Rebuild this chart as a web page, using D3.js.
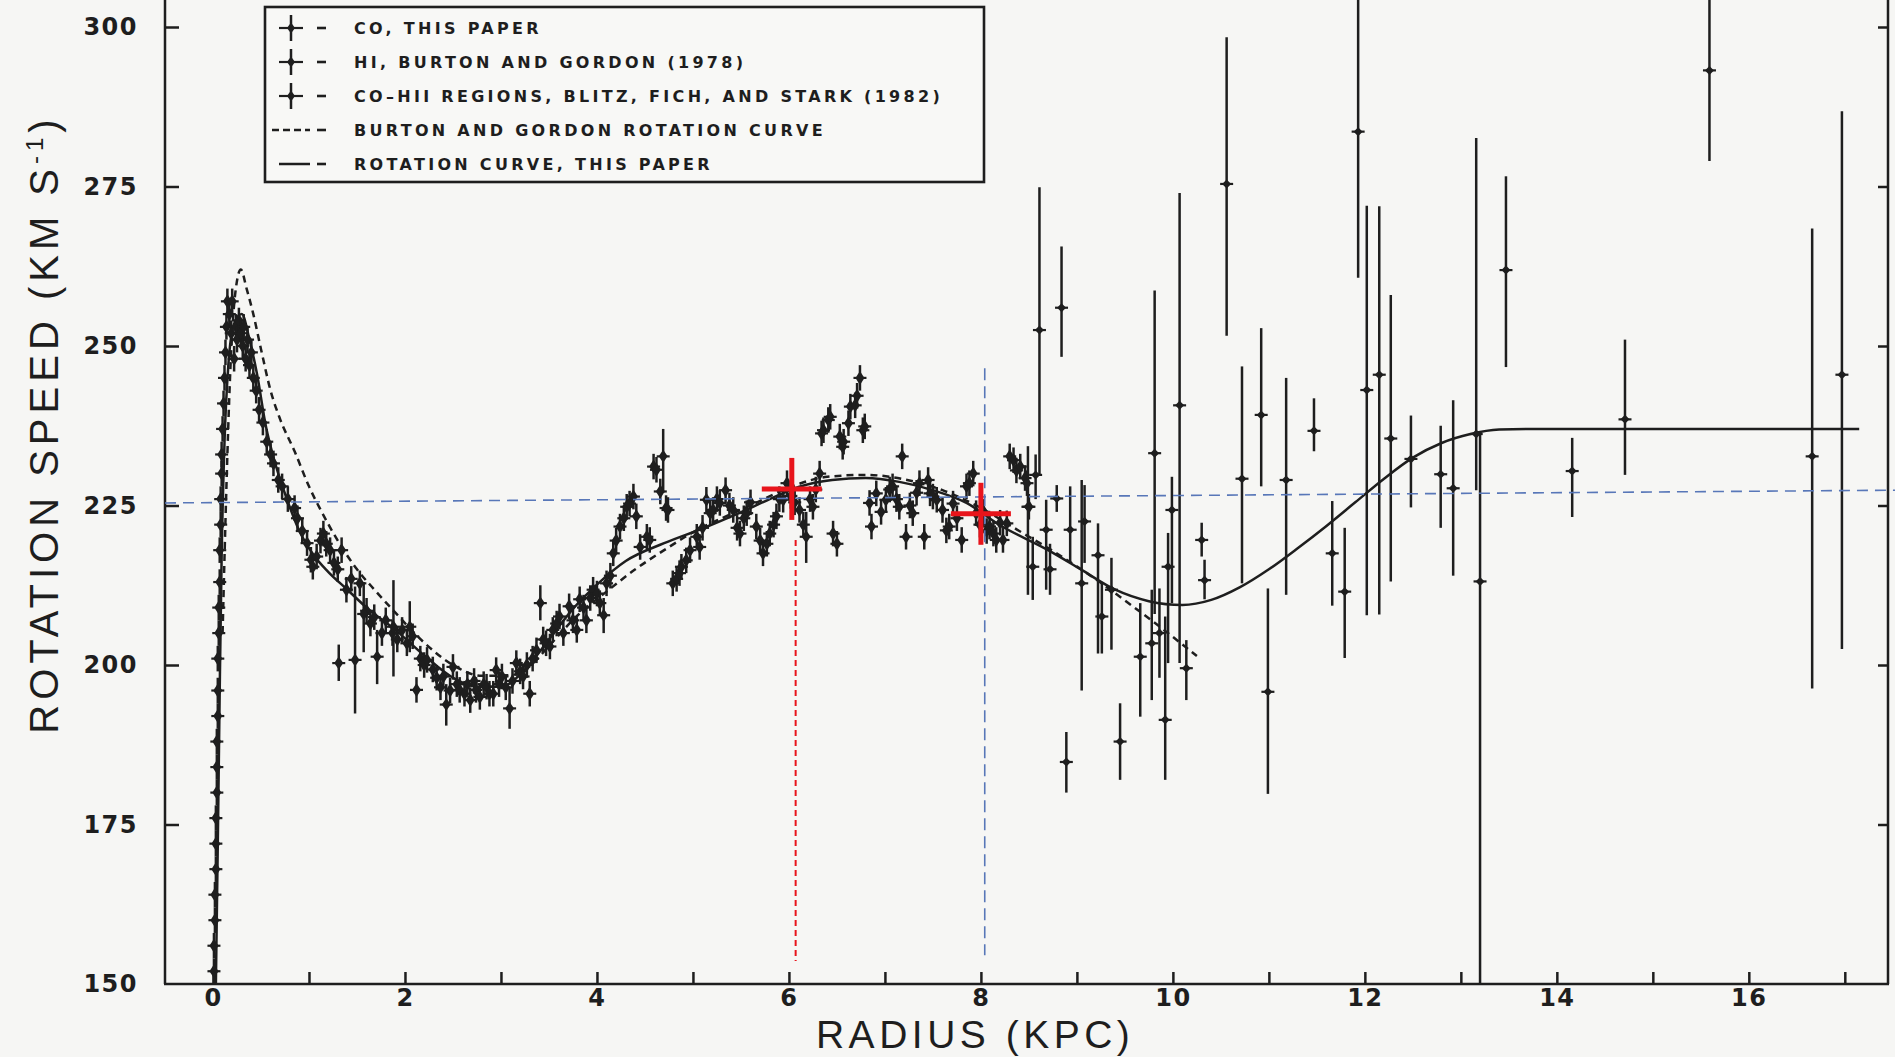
<!DOCTYPE html>
<html>
<head>
<meta charset="utf-8">
<script src="https://cdn.jsdelivr.net/npm/d3@7"></script>
<style>
  html, body { margin: 0; padding: 0; background: #f6f6f4; }
  svg { display: block; }
  .axis path, .axis line { stroke: #1e1e1e; stroke-width: 2.5; }
  .axis text { font-family: "DejaVu Sans", sans-serif; font-weight: bold; font-size: 24px; fill: #1e1e1e; letter-spacing: 1.5px; }
  .title { font-family: "Liberation Sans", sans-serif; fill: #1e1e1e; }
  .legend text { font-family: "DejaVu Sans", sans-serif; font-weight: bold; font-size: 16px; fill: #1e1e1e; letter-spacing: 3.3px; }
</style>
</head>
<body>
<div id="chart"></div>
<script>
// radius (kpc), rotation speed (km/s)

// CO, this paper
const coPoints = [
    [0.01,152],[0.01,156],[0.02,160],[0.02,164],[0.03,168],[0.03,172],[0.03,176],[0.04,180],[0.04,184],[0.04,188],
    [0.05,192],[0.05,196],[0.05,201],[0.06,205],[0.06,209],[0.07,213],[0.07,218],[0.08,222],[0.08,226],[0.09,230],
    [0.09,233],[0.10,237],[0.11,241],[0.12,245],[0.13,249],[0.14,253],[0.15,257],[0.17,255],[0.19,252],[0.20,257],
    [0.22,248],[0.24,253],[0.25,251],[0.27,254],[0.29,252],[0.31,250],[0.32,253],[0.34,248],[0.36,251],[0.38,247],
    [0.40,249],[0.42,245],[0.45,243],[0.48,240],[0.52,238],[0.56,235],[0.60,233],[0.63,231.6],[0.68,229],[0.72,228],
    [0.78,226],[0.85,224.6],[0.88,223],[0.93,221],[0.98,219.1],[1.02,216.5],[1.04,215.4],[1.08,217],[1.12,219.5],[1.15,220.6],
    [1.18,219],[1.22,218],[1.26,216],[1.30,215],[1.34,218],[1.39,211.8],[1.44,213.5],[1.53,212.8],[1.60,208.5],[1.64,206.5],
    [1.68,207.5],[1.76,205],[1.80,207],[1.87,205],[1.92,204],[1.97,205.5],[2.02,203.4],[2.08,204.5],[2.12,196.1],[2.16,201],
    [2.20,200],[2.23,200.8],[2.29,199.3],[2.33,198],[2.37,196.5],[2.40,198.2],[2.47,196],[2.50,199.7],[2.54,197],[2.57,196.1],
    [2.62,195.5],[2.65,197],[2.68,194.5],[2.72,197.5],[2.74,196.1],[2.78,195],[2.82,197],[2.85,196.6],[2.88,195.5],[2.92,195.5],
    [2.95,199.2],[2.98,197],[3.01,198.2],[3.05,196.5],[3.12,197.5],[3.16,200.3],[3.20,199],[3.23,198.2],[3.27,200],[3.30,195.5],
    [3.33,201],[3.37,202.3],[3.44,204],[3.47,203.4],[3.51,202.9],[3.54,205.5],[3.58,206.5],[3.61,207.6],[3.65,205],[3.71,209.2],
    [3.75,207],[3.79,205.5],[3.82,210.3],[3.86,209],[3.89,207],[3.93,210.5],[3.96,211.8],[4.00,211.2],[4.03,209.7],[4.10,212.8],
    [4.14,214],[4.17,217.5],[4.20,219.5],[4.24,221.7],[4.28,223],[4.31,224.8],[4.34,225.3],[4.38,226.4],[4.41,223.3],[4.45,218.5],
    [4.52,220.1],[4.55,219.6],[4.59,231.1],[4.62,230.6],[4.66,227.2],[4.72,224.6],[4.74,224.3],[4.79,212.8],[4.83,213.5],[4.86,214.4],
    [4.88,215.4],[4.93,216.4],[4.97,218],[5.04,220.1],[5.07,218.5],[5.10,221.5],[5.14,225.9],[5.18,223.8],[5.21,224.3],[5.25,226],
    [5.28,225.4],[5.34,227.4],[5.38,225],[5.42,224.3],[5.46,221.5],[5.49,220.6],[5.53,223],[5.56,223.8],[5.60,225.5],[5.66,221.7],
    [5.70,219.5],[5.73,217.5],[5.77,219],[5.80,220.6],[5.84,222],[5.87,223.3],[5.90,226],[5.94,225.9],[5.98,228.5],[6.02,226.5],
    [6.06,225.5],[6.11,224.3],[6.15,222],[6.22,226],[6.25,224.8],[6.28,227.5],[6.32,230],[6.34,236.3],[6.36,236.8],[6.41,238.4],
    [6.43,238.9],[6.46,220.6],[6.50,219],[6.53,235.8],[6.56,234.2],[6.57,235],[6.62,237.9],[6.64,240.5],[6.69,240.7],[6.71,242.2],
    [6.74,245],[6.77,236.8],[6.79,237.4],[6.84,225.4],[6.86,221.7],[6.91,226.9],[6.96,224],[7.01,225.9],[7.05,227.5],[7.08,228],
    [7.12,226],[7.15,224.8],[7.18,232.7],[7.22,220.1],[7.26,225],[7.29,223.8],[7.33,227],[7.36,228.5],[7.41,220.1],[7.45,229],
    [7.47,226.9],[7.50,226.4],[7.54,225.9],[7.60,224.3],[7.64,221.1],[7.67,221.7],[7.71,225.3],[7.75,223],[7.80,219.6],[7.85,228],
    [7.88,228.5],[7.92,230],[7.95,223.8],[7.99,222],[8.03,224],[8.06,221],[8.09,221.7],[8.13,220.6],[8.16,219.6],[8.20,222.3],
    [8.23,219.6],[8.27,222.2],[8.30,232.7],[8.34,232.1],[8.37,230.5],[8.41,231.1],[8.46,229.3],[8.48,228.5],[8.50,224.8]
];
const coErr = 2;

// HI, Burton and Gordon (1978): radius, speed, error low, error high
const hiPoints = [
    [1.31,200.3,197.5,203.2],[1.48,200.8,192.4,212.3],[1.57,208,202,213],[1.71,201.3,197,205.5],
    [1.88,206,198.2,213.3],[2.05,206,202,210],[2.43,193.8,190.5,197],[3.09,193.2,190,196.5],
    [3.41,209.7,207,212.5],[4.07,207.8,205,210.5],[4.69,232.7,227,237],[6.18,220.1,216,224]
];

// CO-HII regions, Blitz, Fich and Stark (1982): radius, speed, error low, error high
const hiiPoints = [
    [8.49,224.8,211,234.3],[8.54,215.4,210.2,220.1],[8.57,229.8,226,233],[8.61,252.5,229.8,274.9],
    [8.68,221.2,211.8,225.9],[8.72,215,211,219],[8.79,226.1,224,228.2],[8.84,256,248.3,265.6],
    [8.89,184.8,180,189.5],[8.93,221.2,216,228],[9.05,212.8,196,229],[9.08,222.5,216,228.2],
    [9.22,217.2,201.8,222.2],[9.26,207.6,201.8,212.8],[9.36,211.8,202.4,216.8],[9.45,188,182,194],
    [9.66,201.3,191.9,209.7],[9.78,203.4,194.5,211.8],[9.81,233.2,208,258.7],[9.86,205,198,212],
    [9.92,191.4,182,207.6],[9.95,215.4,200.3,220.7],[9.99,224.3,209.7,229.5],[10.07,240.7,200.3,274],
    [10.14,199.5,194.5,203.9],[10.30,219.6,217,222.3],[10.33,213.3,210.3,216.5],[10.56,275.4,251.6,298.4],
    [10.72,229.2,212.8,246.8],[10.92,239.2,228,252.8],[10.99,195.8,179.8,212],[11.18,229,211,245],
    [11.47,236.7,233.5,241.8],[11.66,217.5,209.3,225.7],[11.79,211.5,201.1,221.5],[11.93,283.6,260.7,310],
    [12.02,243.1,207.8,272],[12.15,245.5,207.9,271.9],[12.27,235.5,213.1,258],[12.48,232.3,224.7,239.1],
    [12.79,229.9,221.5,237.5],[12.92,227.7,214,241.5],[13.16,236.2,227.4,282.6],[13.20,213.1,150,236.2],
    [13.47,261.9,246.7,276.6],[14.16,230.4,223.2,235.6],[14.71,238.5,229.8,251],[15.59,293.2,279,315],
    [16.66,232.7,196.3,268.4],[16.97,245.5,202.5,286.8]
];

// rotation curve, this paper
const rotationCurve = [
    [0.03,150],[0.05,172],[0.07,196],[0.09,217],[0.12,235],[0.16,247],[0.22,253.5],[0.30,255],[0.38,251],
    [0.46,245.5],[0.55,237.5],[0.65,231.5],[0.77,226],[0.90,221],[1.05,217.2],[1.20,214.6],[1.40,211.8],
    [1.60,209],[1.90,205.5],[2.20,201.5],[2.50,198],[2.75,196.6],[3.00,196.6],[3.25,199.3],[3.50,204],
    [3.75,208.8],[4.00,212.6],[4.30,216.3],[4.70,219.1],[5.10,221.4],[5.45,223.6],[5.80,226],[6.10,227.9],
    [6.45,229],[6.80,229.3],[7.15,228.7],[7.50,227.4],[7.85,225.4],[8.20,221.9],[8.70,218],[9.05,214.9],
    [9.40,211.8],[9.75,210],[10.10,209.4],[10.40,210.2],[10.70,212.2],[11.00,215],[11.30,218.3],[11.60,221.8],
    [11.90,225.5],[12.20,229.2],[12.50,232.5],[12.80,234.8],[13.10,236.2],[13.40,236.9],[13.70,237],[17.15,237]
];

// Burton and Gordon rotation curve
const burtonGordonCurve = [
    [0.10,205],[0.14,228],[0.18,246],[0.23,258],[0.29,262],[0.35,259],[0.42,255],[0.50,249.5],[0.60,243],
    [0.70,238.5],[0.85,233.5],[1.00,228],[1.15,223.5],[1.30,219.5],[1.50,215],[1.70,211.5],[1.90,208.2],
    [2.20,203.5],[2.50,200],[2.80,198.3],[3.10,198.4],[3.30,199.8],[3.50,203],[3.80,207.8],[4.10,211.5],
    [4.40,215],[4.70,218],[5.00,220.8],[5.30,223],[5.60,225],[6.00,227.8],[6.40,229.5],[6.80,229.8],
    [7.20,229.1],[7.60,227.4],[8.00,224.6],[8.40,221],[8.80,217.4],[9.20,213.4],[9.60,209],[10.00,204.4],
    [10.25,201.4]
];

const xTicks = [0, 1, 2, 3, 4, 5, 6, 7, 8, 9, 10, 11, 12, 13, 14, 15, 16, 17];
const yTicks = [150, 175, 200, 225, 250, 275, 300];

const legendLabels = [
    "CO, THIS PAPER",
    "HI, BURTON AND GORDON (1978)",
    "CO\u2013HII REGIONS, BLITZ, FICH, AND STARK (1982)",
    "BURTON AND GORDON ROTATION CURVE",
    "ROTATION CURVE, THIS PAPER"
];

// annotations drawn over the scan
const blueHLine = [[-0.5,225.4],[17.55,227.4]];
const blueVLine = [[8.04,246.5],[8.04,154.5]];
const redVLine = [[6.07,219.6],[6.07,153.6]];
const redCrosses = [[6.03,227.6],[8.0,223.7]];

const ink = "#1e1e1e";

function draw() {
    let width = 1895;
    let height = 1057;

    let svg = d3.select("#chart").append("svg")
        .attr("width", width)
        .attr("height", height);

    svg.append("rect").attr("width", width).attr("height", height).attr("fill", "#f6f6f4");

    let x = d3.scaleLinear().domain([-0.5, 17.45]).range([165, 1888]);
    let y = d3.scaleLinear().domain([150, 300]).range([984, 27]);

    svg.append("clipPath").attr("id", "plotClip")
        .append("rect").attr("x", 165).attr("y", 0).attr("width", width - 165).attr("height", 986);

    // axes
    let yAxis = d3.axisLeft(y).tickValues(yTicks).tickSizeInner(-14).tickSizeOuter(0).tickPadding(27);
    let gy = svg.append("g").attr("class", "axis")
        .attr("transform", "translate(" + x(-0.5) + ",0)")
        .call(yAxis);
    gy.select(".domain").remove();
    gy.selectAll(".tick line").filter(d => d === 150).remove();

    let yAxisRight = d3.axisRight(y).tickValues(yTicks.filter(d => d > 150)).tickSizeInner(-10).tickSizeOuter(0).tickFormat("");
    let gyr = svg.append("g").attr("class", "axis")
        .attr("transform", "translate(" + x(17.45) + ",0)")
        .call(yAxisRight);
    gyr.select(".domain").remove();

    let xAxis = d3.axisBottom(x).tickValues(xTicks).tickSizeInner(-12).tickSizeOuter(0).tickPadding(5)
        .tickFormat(d => d % 2 === 0 ? d : "");
    let gx = svg.append("g").attr("class", "axis")
        .attr("transform", "translate(0," + y(150) + ")")
        .call(xAxis);
    gx.select(".domain").remove();

    // frame lines
    svg.append("line").attr("x1", x(-0.5)).attr("x2", x(-0.5)).attr("y1", 0).attr("y2", y(150))
        .attr("stroke", ink).attr("stroke-width", 2.5);
    svg.append("line").attr("x1", x(17.45)).attr("x2", x(17.45)).attr("y1", 0).attr("y2", y(150))
        .attr("stroke", ink).attr("stroke-width", 2.5);
    svg.append("line").attr("x1", x(-0.5) - 1).attr("x2", x(17.45) + 1).attr("y1", y(150)).attr("y2", y(150))
        .attr("stroke", ink).attr("stroke-width", 2.5);

    // axis titles
    svg.append("text").attr("class", "title")
        .attr("x", x(7.94)).attr("y", 1048)
        .attr("text-anchor", "middle")
        .style("font-size", "39px").style("letter-spacing", "4.5px")
        .text("RADIUS (KPC)");

    let yt = svg.append("text").attr("class", "title")
        .attr("transform", "translate(58,424) rotate(-90)")
        .attr("text-anchor", "middle")
        .style("font-size", "40px").style("letter-spacing", "5px");
    yt.append("tspan").text("ROTATION SPEED (KM S");
    yt.append("tspan").attr("dy", -15).style("font-size", "24px").text("-1");
    yt.append("tspan").attr("dy", 15).text(")");

    let plot = svg.append("g").attr("clip-path", "url(#plotClip)");

    // curves
    let line = d3.line().x(d => x(d[0])).y(d => y(d[1])).curve(d3.curveMonotoneX);

    plot.append("path").datum(burtonGordonCurve)
        .attr("d", line).attr("fill", "none")
        .attr("stroke", ink).attr("stroke-width", 2.5).attr("stroke-dasharray", "7,5");

    plot.append("path").datum(rotationCurve)
        .attr("d", line).attr("fill", "none")
        .attr("stroke", ink).attr("stroke-width", 2.5);

    // data points with error bars
    function diamond(w, h) {
        return "M0," + (-h) + "L" + w + ",0L0," + h + "L" + (-w) + ",0Z";
    }

    function drawPoints(cls, points, lo, hi, w, h) {
        let g = plot.selectAll("." + cls).data(points).join("g")
            .attr("class", cls)
            .attr("transform", d => "translate(" + x(d[0]) + "," + y(d[1]) + ")");
        g.append("line")
            .attr("x1", 0).attr("x2", 0)
            .attr("y1", d => y(lo(d)) - y(d[1]))
            .attr("y2", d => y(hi(d)) - y(d[1]))
            .attr("stroke", ink).attr("stroke-width", 2.5);
        g.append("line")
            .attr("x1", -w - 2).attr("x2", w + 2).attr("y1", 0).attr("y2", 0)
            .attr("stroke", ink).attr("stroke-width", 2.2);
        g.append("path").attr("d", diamond(w, h)).attr("fill", ink);
    }

    drawPoints("co", coPoints, d => d[1] - coErr, d => d[1] + coErr, 4.5, 7);
    drawPoints("hi", hiPoints, d => d[2], d => d[3], 4.5, 6.5);
    drawPoints("hii", hiiPoints, d => d[2], d => d[3], 4.5, 4.5);

    // annotations
    let straight = d3.line().x(d => x(d[0])).y(d => y(d[1]));
    svg.append("path").datum(blueHLine).attr("d", straight)
        .attr("stroke", "#5877b8").attr("stroke-width", 1.6).attr("stroke-dasharray", "11,7").attr("fill", "none");
    svg.append("path").datum(blueVLine).attr("d", straight)
        .attr("stroke", "#5877b8").attr("stroke-width", 1.6).attr("stroke-dasharray", "12,6").attr("fill", "none");
    svg.append("path").datum(redVLine).attr("d", straight)
        .attr("stroke", "#e8141b").attr("stroke-width", 2).attr("stroke-dasharray", "6,4").attr("fill", "none");

    let crosses = svg.selectAll(".cross").data(redCrosses).join("g")
        .attr("class", "cross")
        .attr("transform", d => "translate(" + x(d[0]) + "," + y(d[1]) + ")");
    crosses.append("line").attr("x1", -30).attr("x2", 30).attr("y1", 0).attr("y2", 0)
        .attr("stroke", "#e8141b").attr("stroke-width", 5);
    crosses.append("line").attr("x1", 0).attr("x2", 0).attr("y1", -31).attr("y2", 31)
        .attr("stroke", "#e8141b").attr("stroke-width", 5);

    // legend
    let legend = svg.append("g").attr("class", "legend");
    legend.append("rect")
        .attr("x", 265).attr("y", 7).attr("width", 719).attr("height", 175)
        .attr("fill", "#f8f8f6").attr("stroke", ink).attr("stroke-width", 2.6);

    let rowY = [28, 62, 96, 130, 164];
    let rows = legend.selectAll(".row").data(legendLabels).join("g")
        .attr("class", "row")
        .attr("transform", (d, i) => "translate(0," + rowY[i] + ")");

    rows.each(function (d, i) {
        let row = d3.select(this);
        if (i < 3) {
            row.append("line").attr("x1", 291).attr("x2", 291).attr("y1", -13).attr("y2", 13)
                .attr("stroke", ink).attr("stroke-width", 2.5);
            row.append("line").attr("x1", 279).attr("x2", 303).attr("y1", 0).attr("y2", 0)
                .attr("stroke", ink).attr("stroke-width", 2.2);
            row.append("path").attr("transform", "translate(291,0)").attr("d", diamond(4, 5.5)).attr("fill", ink);
        } else if (i === 3) {
            row.append("line").attr("x1", 272).attr("x2", 310).attr("y1", 0).attr("y2", 0)
                .attr("stroke", ink).attr("stroke-width", 2.5).attr("stroke-dasharray", "7,4");
        } else {
            row.append("line").attr("x1", 279).attr("x2", 310).attr("y1", 0).attr("y2", 0)
                .attr("stroke", ink).attr("stroke-width", 2.5);
        }
        row.append("line").attr("x1", 317).attr("x2", 326).attr("y1", 0).attr("y2", 0)
            .attr("stroke", ink).attr("stroke-width", 2.6);
        row.append("text").attr("x", 354).attr("y", 6).text(d);
    });
}

draw();
</script>
</body>
</html>
